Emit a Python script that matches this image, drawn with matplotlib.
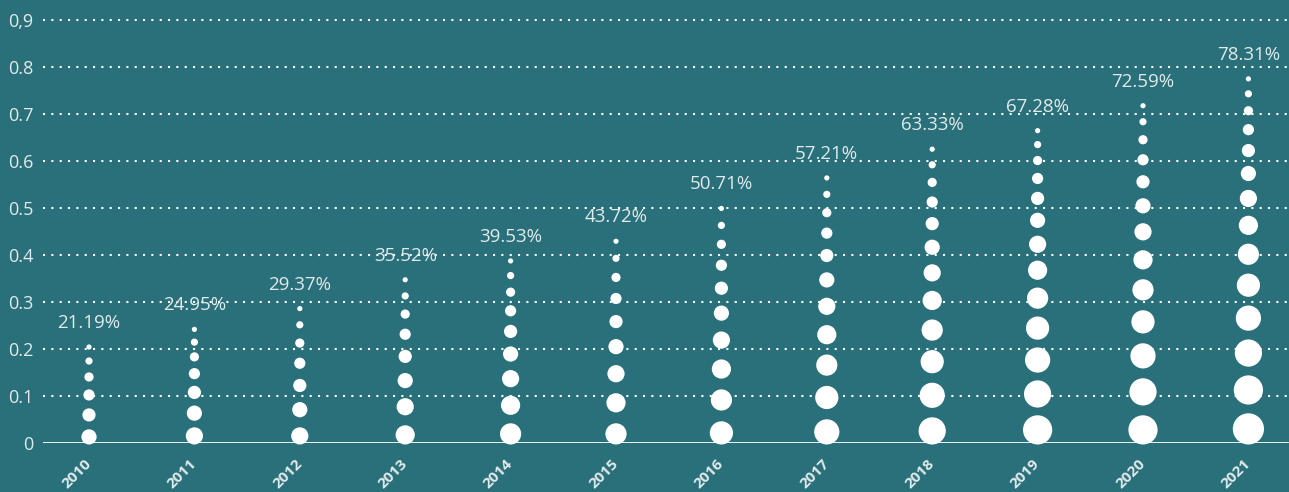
"""Dot-column chart: share per year, drawn as stacked white dots shrinking upward."""

import matplotlib

matplotlib.use("Agg")
import matplotlib.pyplot as plt
import numpy as np

years = ["2010", "2011", "2012", "2013", "2014", "2015",
         "2016", "2017", "2018", "2019", "2020", "2021"]
values = [0.2119, 0.2495, 0.2937, 0.3552, 0.3953, 0.4372,
          0.5071, 0.5721, 0.6333, 0.6728, 0.7259, 0.7831]
labels = ["21.19%", "24.95%", "29.37%", "35.52%", "39.53%", "43.72%",
          "50.71%", "57.21%", "63.33%", "67.28%", "72.59%", "78.31%"]
dot_counts = [6, 7, 7, 8, 9, 9, 10, 11, 12, 13, 13, 14]
y_ticks = [0, 0.1, 0.2, 0.3, 0.4, 0.5, 0.6, 0.7, 0.8, 0.9]
y_tick_labels = ["0", "0.1", "0.2", "0.3", "0.4", "0.5", "0.6", "0.7", "0.8", "0,9"]

BG = "#29707a"
TXT = "#e2eaea"
DPI = 100

plt.rcParams["font.family"] = ["Open Sans", "DejaVu Sans"]

fig = plt.figure(figsize=(12.89, 4.92), dpi=DPI, facecolor=BG)
ax = fig.add_axes([43 / 1289, 49.5 / 492, 1 - 43 / 1289, 1 - 49.5 / 492])
ax.set_facecolor(BG)

ymax = 0.9 + 20 / 469.5
ax.set_ylim(0, ymax)
ax.set_xlim(-46 / 105.4, (1289 - 89) / 105.4)

# pixels per data unit on the y axis
ppu = ax.get_position().height * fig.get_figheight() * DPI / ymax
px2pt = 72 / DPI

# dotted grid
for t in y_ticks[1:]:
    ax.axhline(t, color="white", lw=1.5, dashes=(1, 3), zorder=1)
ax.axhline(0, color="white", lw=2.0, zorder=4, xmax=(1287 - 43) / (1289 - 43))

# dots: radius grows by one pixel per step downward, gaps spread evenly
r_top, r_step = 2.6, 1.0
for i, (v, n) in enumerate(zip(values, dot_counts)):
    radii = r_top + r_step * np.arange(n)
    h = v * ppu
    top_c = h - 4
    bot_c = radii[-1] - 2
    pairs = 2 * radii.sum() - radii[0] - radii[-1]
    gap = (top_c - bot_c - pairs) / (n - 1)
    centers = [top_c]
    for k in range(1, n):
        centers.append(centers[-1] - radii[k - 1] - radii[k] - gap)
    centers = np.array(centers)
    ax.scatter(np.full(n, i), centers / ppu, s=(2 * radii * px2pt) ** 2,
               color="white", linewidths=0, zorder=3, clip_on=False)
    ax.text(i, v + 20 / ppu, labels[i], ha="center", va="center",
            color=TXT, fontsize=13.5, zorder=5)

ax.set_yticks(y_ticks)
ax.set_yticklabels(y_tick_labels, color=TXT, fontsize=13)
ax.set_xticks(range(len(years)))
ax.set_xticklabels(years, rotation=45, ha="right", va="center",
                   rotation_mode="anchor", color=TXT, fontsize=11,
                   fontweight="bold")
ax.tick_params(axis="y", length=0, pad=7)
ax.tick_params(axis="x", length=0, pad=14)
for s in ax.spines.values():
    s.set_visible(False)

fig.savefig("out.png", dpi=DPI, facecolor=BG)
